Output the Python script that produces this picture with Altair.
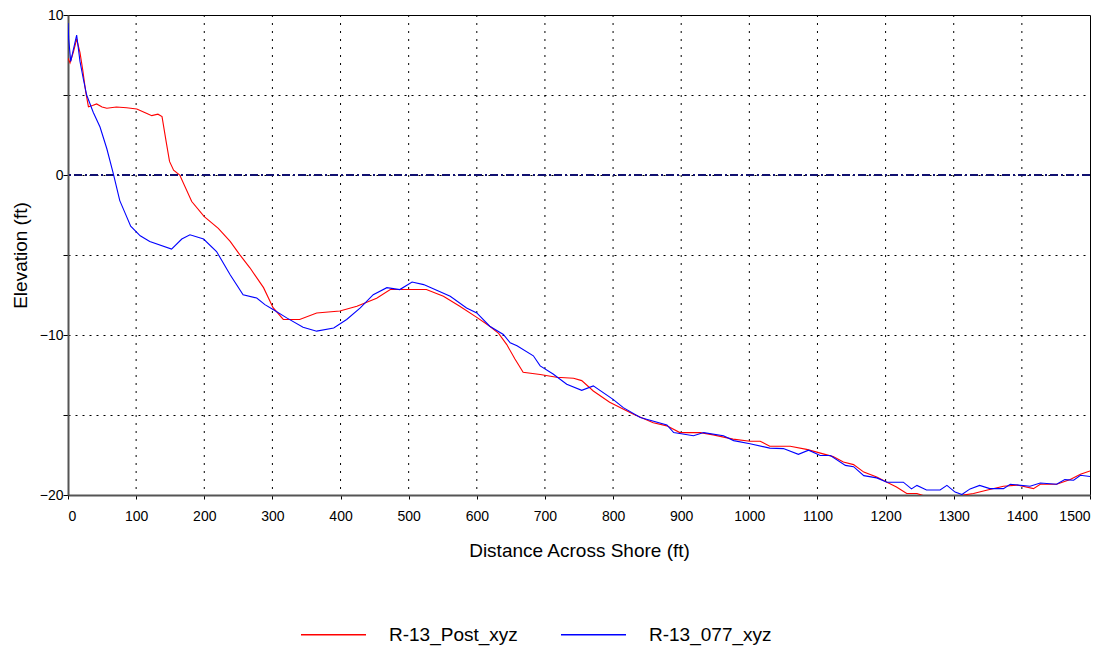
import altair as alt
import pandas as pd

# ---- data ----
post_x = [0, 3, 8, 12.7, 17.6, 21.5, 26, 30, 36, 42, 50, 57, 71, 86, 101, 115, 123, 132, 138, 144, 149, 155,
          164, 181.6, 200, 220.6, 238, 252, 267, 287, 301, 316, 340, 365, 399, 424, 453, 473, 502, 526, 551,
          575, 600, 619, 632, 644, 656, 668, 693, 717, 742, 754, 771, 795, 830, 859, 879, 898, 928, 947, 976,
          1001, 1016, 1030, 1060, 1084, 1099, 1123, 1138, 1153, 1168, 1187, 1202, 1216, 1231, 1246, 1260,
          1275, 1295, 1314, 1329, 1348, 1373, 1393, 1417, 1427, 1451, 1471, 1486, 1500]
post_y = [7.3, 7.0, 7.7, 8.5, 7.65, 6.6, 5.2, 4.27, 4.35, 4.44, 4.25, 4.17, 4.25, 4.2, 4.13, 3.86, 3.71, 3.8,
          3.65, 2.1, 0.85, 0.3, 0.0, -1.66, -2.6, -3.33, -4.15, -4.98, -5.8, -7.04, -8.29, -9.03, -9.03, -8.62,
          -8.5, -8.2, -7.7, -7.16, -7.16, -7.16, -7.58, -8.2, -8.9, -9.45, -9.9, -10.6, -11.5, -12.33, -12.47,
          -12.64, -12.7, -12.85, -13.5, -14.2, -14.95, -15.48, -15.68, -16.1, -16.1, -16.24, -16.51, -16.64,
          -16.64, -16.95, -16.95, -17.15, -17.32, -17.6, -17.94, -18.1, -18.57, -18.88, -19.2, -19.5, -19.91,
          -19.91, -20.1, -20.3, -20.3, -20.0, -19.91, -19.7, -19.45, -19.38, -19.6, -19.33, -19.33, -19.03,
          -18.7, -18.5]

pre_x = [0, 1, 4, 12.7, 17.6, 22.5, 27.4, 37, 47, 57, 66.5, 76, 84, 92, 106, 120, 152, 167, 179, 199, 218,
         238, 257, 277, 289, 301, 321, 345, 365, 390, 409, 429, 448, 468, 487, 505, 522, 561, 585, 600, 619,
         639, 649, 659, 683, 693, 712, 732, 754, 771, 800, 815, 840, 879, 889, 918, 933, 962, 977, 1001, 1030,
         1050, 1072, 1087, 1104, 1119, 1141, 1153, 1168, 1187, 1202, 1226, 1238, 1246, 1260, 1280, 1290, 1302,
         1312, 1324, 1338, 1353, 1373, 1383, 1412, 1427, 1451, 1463, 1476, 1486, 1500]
pre_y = [9.5, 8.5, 7.1, 8.75, 7.1, 6.0, 5.0, 3.92, 3.0, 1.64, 0.08, -1.6, -2.4, -3.2, -3.8, -4.15, -4.63, -4.0,
         -3.74, -4.0, -4.78, -6.23, -7.48, -7.69, -8.1, -8.41, -8.93, -9.51, -9.76, -9.56, -9.03, -8.31, -7.48,
         -7.04, -7.16, -6.69, -6.85, -7.58, -8.31, -8.62, -9.45, -9.97, -10.49, -10.67, -11.3, -11.93, -12.44,
         -13.08, -13.46, -13.18, -14.02, -14.54, -15.16, -15.62, -16.1, -16.3, -16.1, -16.3, -16.6, -16.8,
         -17.07, -17.1, -17.46, -17.2, -17.53, -17.53, -18.15, -18.23, -18.79, -18.93, -19.2, -19.2, -19.62,
         -19.4, -19.69, -19.69, -19.4, -19.82, -19.97, -19.62, -19.4, -19.6, -19.6, -19.33, -19.45, -19.25,
         -19.33, -19.04, -19.08, -18.77, -18.84]

series_names = ["R-13_Post_xyz", "R-13_077_xyz"]
series_colors = ["#ff0000", "#0000ff"]

x_tick_values = list(range(0, 1501, 50))
x_grid_values = list(range(100, 1500, 100))
y_tick_values = list(range(-20, 11, 5))
ref_level = [0]

FONT = "Liberation Sans, Arial"

rows = []
for i, (x, y) in enumerate(zip(post_x, post_y)):
    rows.append({"series": series_names[0], "dist": x, "elev": y, "i": i})
for i, (x, y) in enumerate(zip(pre_x, pre_y)):
    rows.append({"series": series_names[1], "dist": x, "elev": y, "i": i})
df = pd.DataFrame(rows)

xscale = alt.Scale(domain=[0, 1500], nice=False, zero=False)
yscale = alt.Scale(domain=[-20, 10], nice=False, zero=False)

xgrid = alt.Chart(pd.DataFrame({"g": x_grid_values})).mark_rule(
    color="#000000", strokeWidth=1, strokeDash=[2, 6]
).encode(x=alt.X("g:Q", scale=xscale))

zero = alt.Chart(pd.DataFrame({"z": ref_level})).mark_rule(
    color="#101070", strokeWidth=2, strokeDash=[8, 3, 2, 3]
).encode(y=alt.Y("z:Q", scale=yscale))

lines = alt.Chart(df).mark_line(strokeWidth=1.1, clip=True, interpolate="linear").encode(
    x=alt.X("dist:Q", scale=xscale, title="Distance Across Shore (ft)",
            axis=alt.Axis(values=x_tick_values,
                          labelExpr="datum.value % 100 == 0 ? datum.label : ''",
                          grid=False, tickSize=4, labelPadding=10, titlePadding=18,
                          labelFontSize=14, titleFontSize=19, format="d")),
    y=alt.Y("elev:Q", scale=yscale, title="Elevation (ft)",
            axis=alt.Axis(values=y_tick_values,
                          labelExpr="datum.value % 10 == 0 ? datum.label : ''",
                          grid=True, gridColor="#000000", gridDash=[2, 5], gridWidth=1,
                          tickSize=5, labelPadding=0, titlePadding=9,
                          labelFontSize=14, titleFontSize=19)),
    color=alt.Color("series:N", sort=series_names,
                    scale=alt.Scale(domain=series_names, range=series_colors),
                    legend=alt.Legend(title=None, orient="none", direction="horizontal",
                                      legendX=232, legendY=586,
                                      symbolType="stroke", symbolSize=4225, symbolStrokeWidth=1.5,
                                      labelFontSize=19, labelFont=FONT, labelColor="#000000",
                                      labelOffset=22, columnPadding=40)),
    order=alt.Order("i:Q"),
    detail="series:N",
)

chart = alt.layer(xgrid, zero, lines).properties(
    width=1022, height=480,
    autosize=alt.AutoSizeParams(type="none"),
    padding={"left": 60, "top": 7, "right": 15, "bottom": 160},
    background="#ffffff",
).configure_view(
    stroke="#000000", strokeWidth=1
).configure_axis(
    labelFont=FONT, titleFont=FONT, labelColor="#000000", titleColor="#000000",
    titleFontWeight="normal", domainColor="#555555", domainWidth=2,
    tickColor="#000000", labelFontWeight="normal",
)

chart.save("out.html", embed_options={"renderer": "svg", "actions": False})
